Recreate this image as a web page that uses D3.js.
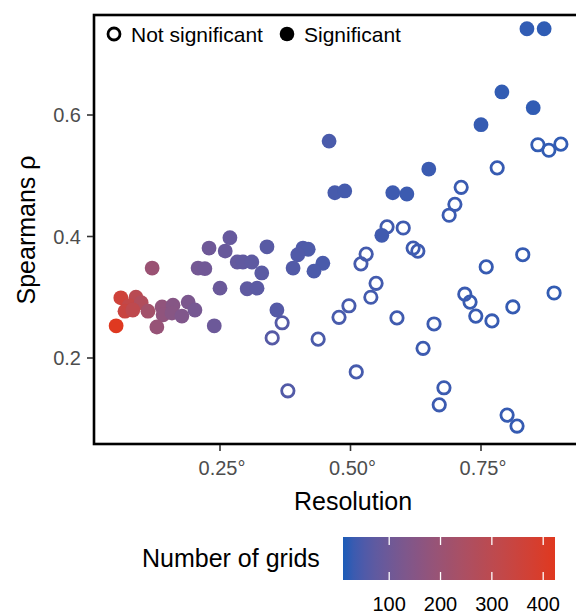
<!DOCTYPE html>
<html><head><meta charset="utf-8">
<script src="https://cdn.jsdelivr.net/npm/d3@7"></script>
<style>body{margin:0;background:#fff}svg{display:block}text{font-family:"Liberation Sans",Arial,sans-serif}</style>
</head><body><svg id="c" width="576" height="615"></svg>
<script>
// Significant points: resolution (deg), Spearman rho, number of grids
const sigRes  = [0.838,0.871,0.790,0.850,0.750,0.459,0.650,0.470,0.489,0.581,0.608,0.560,0.409,0.419,0.399,0.447,0.390,0.430,0.269,0.229,0.260,0.340,0.120,0.208,0.221,0.283,0.294,0.311,0.330,0.250,0.302,0.321,0.359,0.060,0.089,0.076,0.099,0.068,0.083,0.112,0.139,0.160,0.189,0.141,0.158,0.177,0.202,0.051,0.129,0.239];
const sigRho  = [0.742,0.742,0.638,0.612,0.584,0.557,0.511,0.472,0.475,0.472,0.470,0.402,0.381,0.379,0.370,0.356,0.348,0.343,0.398,0.381,0.376,0.383,0.348,0.348,0.347,0.358,0.358,0.358,0.340,0.315,0.314,0.315,0.279,0.299,0.300,0.286,0.291,0.277,0.279,0.277,0.284,0.287,0.292,0.271,0.274,0.269,0.279,0.253,0.251,0.253];
const sigGrids= [22,21,23,22,25,45,30,42,40,33,31,35,52,50,54,46,56,48,85,100,88,64,200,110,104,80,76,72,66,92,74,68,60,360,290,320,265,340,305,225,175,150,125,172,152,135,115,420,190,96];
// Not significant points
const nsRes   = [0.859,0.880,0.903,0.781,0.712,0.700,0.689,0.570,0.601,0.620,0.629,0.530,0.520,0.830,0.760,0.549,0.539,0.497,0.478,0.589,0.719,0.729,0.740,0.771,0.811,0.890,0.660,0.369,0.350,0.438,0.380,0.511,0.639,0.679,0.670,0.800,0.819];
const nsRho   = [0.551,0.542,0.552,0.513,0.481,0.453,0.435,0.416,0.414,0.381,0.376,0.371,0.355,0.370,0.350,0.323,0.300,0.286,0.267,0.266,0.305,0.292,0.269,0.261,0.284,0.307,0.256,0.258,0.233,0.231,0.146,0.177,0.216,0.151,0.123,0.106,0.088];
const nsGrids = [24,23,22,27,29,30,30,36,34,33,33,39,40,25,27,38,38,42,43,35,29,28,28,27,25,23,31,58,61,47,56,41,32,31,31,26,25];
const xTicks = [0.25,0.50,0.75];
const xTickLabels = ["0.25°","0.50°","0.75°"];
const yTicks = [0.2,0.4,0.6];
const cbTicks = [100,200,300,400];
const gridRange = [10,423];

const svg = d3.select("#c");
const F = '"Liberation Sans",Arial,sans-serif';
const L = 94, R = 581, T = 15, B = 444;
const x = d3.scaleLinear().domain([0.25,0.75]).range([220,481]);
const y = d3.scaleLinear().domain([0.2,0.6]).range([358,115]);
const col = d3.scaleLinear().domain(gridRange).range(["#1b5cb8","#e0381f"]).interpolate(d3.interpolateLab);

// points
const g = svg.append("g");
const ns = nsRes.map((r,i)=>({r, p:nsRho[i], n:nsGrids[i]}));
const sg = sigRes.map((r,i)=>({r, p:sigRho[i], n:sigGrids[i]}));
g.selectAll("circle.ns").data(ns).join("circle").attr("class","ns")
  .attr("cx",d=>x(d.r)).attr("cy",d=>y(d.p)).attr("r",6.2)
  .attr("fill","none").attr("stroke",d=>col(d.n)).attr("stroke-width",2.8);
g.selectAll("circle.sg").data(sg).join("circle").attr("class","sg")
  .attr("cx",d=>x(d.r)).attr("cy",d=>y(d.p)).attr("r",7.4)
  .attr("fill",d=>col(d.n));

// frame
svg.append("rect").attr("x",L).attr("y",T).attr("width",R-L).attr("height",B-T)
  .attr("fill","none").attr("stroke","#000").attr("stroke-width",2.6);

// x axis
const xa = svg.append("g");
xTicks.forEach((t,i)=>{
  xa.append("line").attr("x1",x(t)).attr("x2",x(t)).attr("y1",B+1).attr("y2",B+7).attr("stroke","#333").attr("stroke-width",1.6);
  xa.append("text").attr("x",x(t)+2).attr("y",475).attr("text-anchor","middle").attr("font-size",20).attr("fill","#4d4d4d").text(xTickLabels[i]);
});
// y axis
const ya = svg.append("g");
yTicks.forEach(t=>{
  ya.append("line").attr("x1",L-7).attr("x2",L-1).attr("y1",y(t)).attr("y2",y(t)).attr("stroke","#333").attr("stroke-width",1.6);
  ya.append("text").attr("x",81).attr("y",y(t)+7).attr("text-anchor","end").attr("font-size",20).attr("fill","#4d4d4d").text(d3.format(".1f")(t));
});

// axis titles
svg.append("text").attr("x",353).attr("y",510).attr("text-anchor","middle").attr("font-size",25).attr("fill","#000").text("Resolution");
svg.append("text").attr("transform","translate(35,230) rotate(-90)").attr("text-anchor","middle").attr("font-size",25).attr("fill","#000").text("Spearmans ρ");

// legend
svg.append("circle").attr("cx",114).attr("cy",34).attr("r",6).attr("fill","none").attr("stroke","#000").attr("stroke-width",2.8);
svg.append("text").attr("x",131).attr("y",42).attr("font-size",21).attr("fill","#000").text("Not significant");
svg.append("circle").attr("cx",287).attr("cy",34).attr("r",7.3).attr("fill","#000");
svg.append("text").attr("x",304).attr("y",42).attr("font-size",21).attr("fill","#000").text("Significant");

// colorbar
const cbL = 343, cbR = 555, cbT = 537, cbB = 580;
const cx = d3.scaleLinear().domain(gridRange).range([cbL,cbR]);
const defs = svg.append("defs");
const lg = defs.append("linearGradient").attr("id","cb").attr("x1","0%").attr("x2","100%");
d3.range(0,1.0001,0.05).forEach(s=>{
  lg.append("stop").attr("offset",(s*100)+"%").attr("stop-color",col(gridRange[0]+s*(gridRange[1]-gridRange[0])));
});
svg.append("rect").attr("x",cbL).attr("y",cbT).attr("width",cbR-cbL).attr("height",cbB-cbT).attr("fill","url(#cb)");
cbTicks.forEach(t=>{
  svg.append("line").attr("x1",cx(t)).attr("x2",cx(t)).attr("y1",cbT).attr("y2",cbT+8).attr("stroke","#fff").attr("stroke-width",1.3);
  svg.append("line").attr("x1",cx(t)).attr("x2",cx(t)).attr("y1",cbB-8).attr("y2",cbB).attr("stroke","#fff").attr("stroke-width",1.3);
  svg.append("text").attr("x",cx(t)).attr("y",611).attr("text-anchor","middle").attr("font-size",20).attr("fill","#000").text(t);
});
svg.append("text").attr("x",142).attr("y",567).attr("font-size",25).attr("fill","#000").text("Number of grids");
</script></body></html>
